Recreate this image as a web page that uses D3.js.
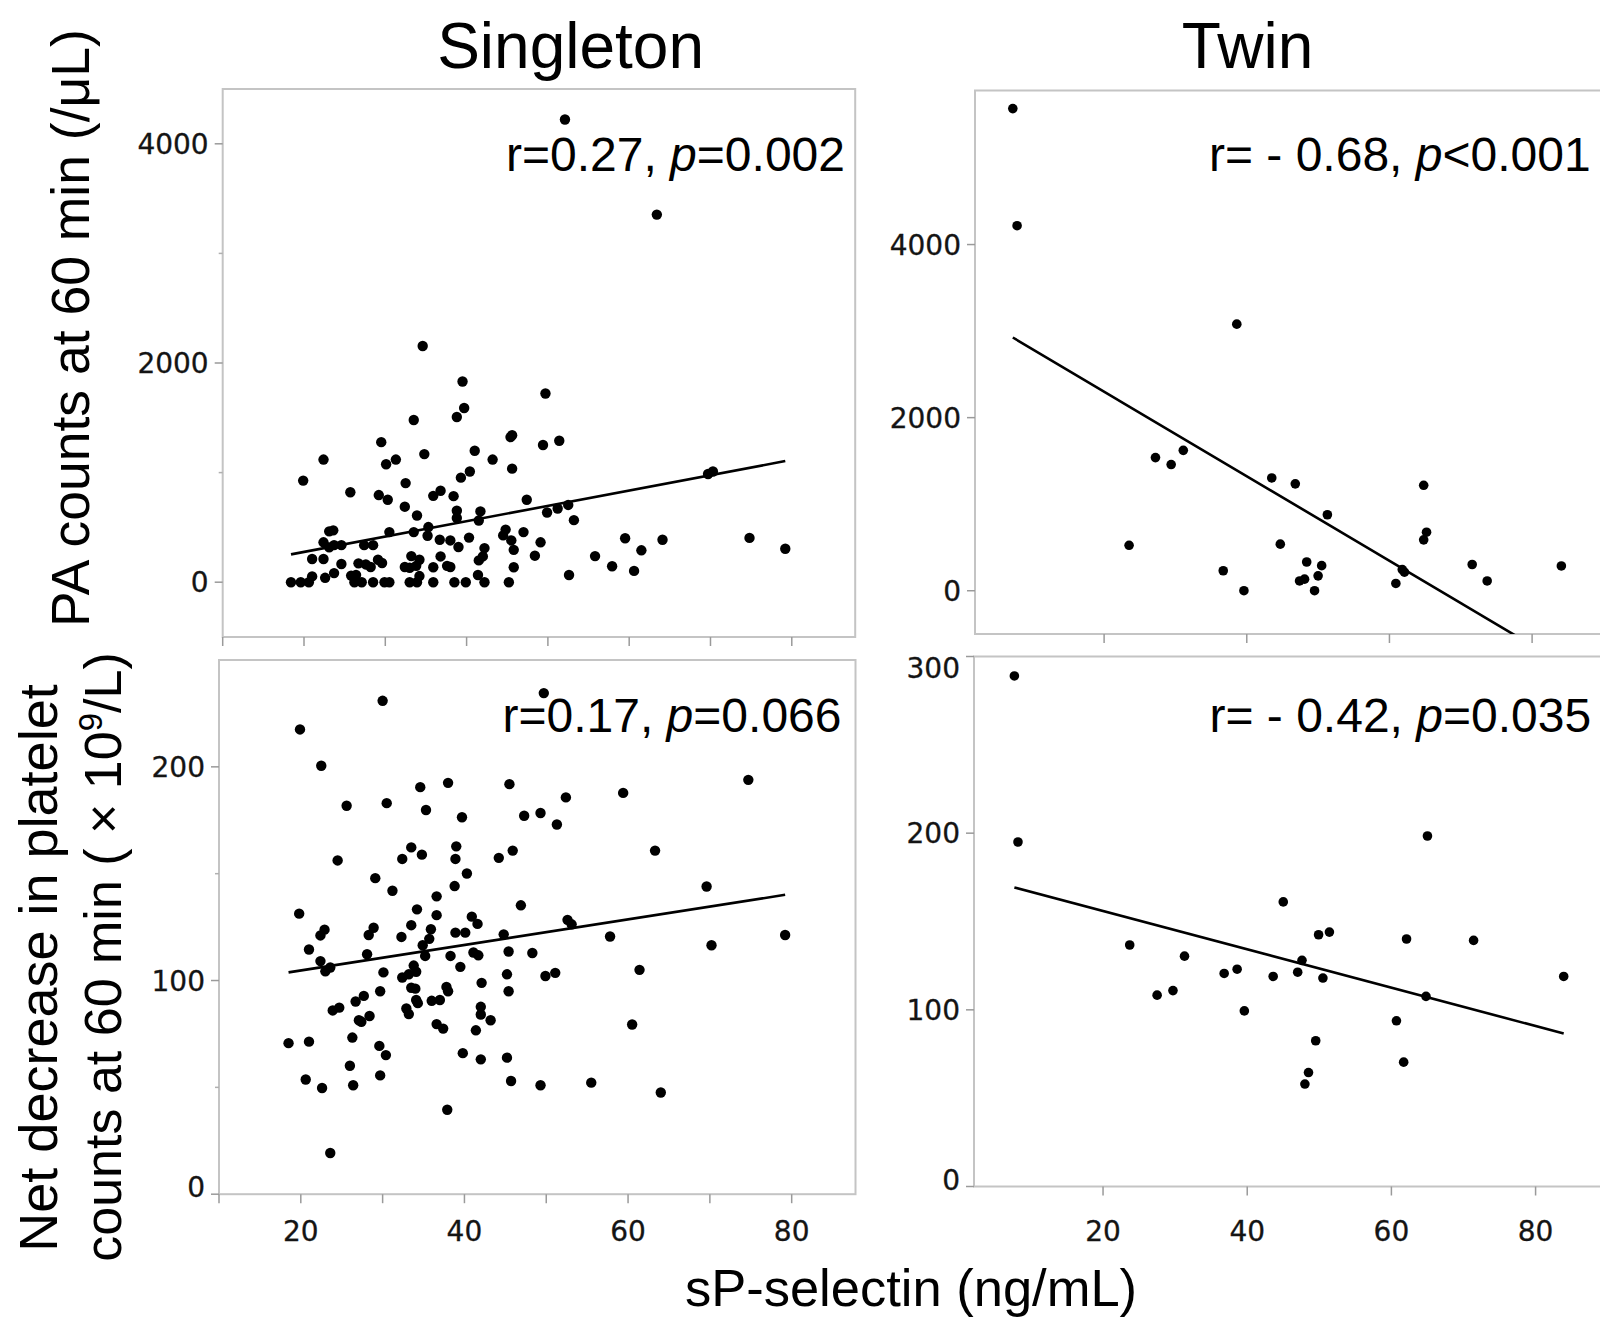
<!DOCTYPE html>
<html><head><meta charset="utf-8">
<script src="https://cdn.jsdelivr.net/npm/d3@7"></script>
<style>body{margin:0;background:#fff} svg{display:block}</style>
</head><body>
<svg id="c" width="1600" height="1321"></svg>
<script>
// ---------- data ----------
const panelTitles = ["Singleton", "Twin"];
const xAxisTitle = "sP-selectin (ng/mL)";

// Singleton: PA counts at 60 min vs sP-selectin
const singletonPA = [
 [18.4,0],[19.6,0],[20.6,0],[21.0,53],[21.0,212],[22.4,212],[22.6,40],[23.7,83],[24.6,166],[22.4,364],[23.1,318],[23.7,338],[24.6,338],[23.1,464],[23.6,473],[25.8,60],[26.4,66],[26.2,0],[27.1,0],[26.7,172],[27.6,162],[28.2,139],[27.4,338],[28.5,338],[29.1,205],[29.6,175],[28.5,0],[29.9,0],[30.5,0],[33.0,0],[33.9,0],[35.9,0],[38.5,0],[39.9,0],[41.4,66],[42.2,0],[45.2,0],
 [19.9,927],[22.4,1119],[25.7,821],[29.2,795],[29.5,1278],[30.1,1076],[30.3,752],[30.5,457],[31.3,1119],[32.4,689],[32.5,904],[33.5,1480],[33.5,457],[33.9,609],[34.6,2155],[34.8,1169],[35.2,424],[35.3,503],[35.9,788],[36.7,387],[36.8,834],[38.0,381],[38.4,785],[38.8,1507],[38.8,652],[38.8,586],[39.0,321],[39.3,954],[39.5,1831],[39.7,1589],[40.3,407],[40.4,1010],[41.0,1199],[41.5,563],[41.7,646],[42.2,311],[42.0,235],[41.5,199],[36.8,235],[37.6,149],[38.0,139],[35.9,136],[33.2,238],[34.2,205],[33.8,149],[32.4,139],[33.0,132],[34.2,56],[43.2,1119],[44.5,427],[44.8,480],[45.4,1324],[45.6,1341],[45.6,1036],[45.5,381],[45.8,295],[45.8,136],[47.0,457],[47.4,752],[48.4,242],[49.1,364],[49.4,1252],[49.7,1722],[49.9,636],[51.2,672],[51.4,1291],[52.1,4222],[52.5,705],[52.6,66],[53.2,566],[55.8,238],[57.9,146],[59.5,401],[60.6,103],[61.5,291],[63.4,3354],[64.1,387],[69.7,987],[70.3,1010],[74.8,404],[79.2,305]
];
const singletonPALine = [[18.4,254],[79.2,1105]];

// Singleton: net decrease in platelet counts vs sP-selectin
const singletonNet = [
 [30.0,230.9],[49.7,234.5],[19.9,217.5],[22.5,200.5],[74.7,193.9],[38.0,192.5],[45.5,191.9],[34.6,190.5],[59.4,187.8],[52.4,185.7],[30.5,183.0],[25.6,181.8],[35.3,179.8],[49.3,178.4],[47.3,177.1],[39.7,176.4],[51.3,173.0],[33.5,162.3],[39.0,162.8],[45.9,160.8],[63.3,160.8],[34.8,158.9],[32.4,156.9],[38.9,156.9],[44.2,157.4],[24.5,156.2],[40.3,150.1],[29.1,147.9],[38.8,144.2],[69.6,144.0],[31.2,142.0],[36.6,139.4],[46.9,135.2],[19.8,131.3],[34.2,133.3],[36.6,130.6],[40.9,129.9],[41.6,126.5],[52.6,128.4],[53.1,126.3],[22.9,123.8],[22.4,121.1],[28.9,124.7],[28.3,121.3],[33.5,125.9],[35.9,124.0],[35.7,119.5],[32.3,120.4],[38.9,122.4],[40.1,122.4],[44.8,121.6],[57.8,120.6],[79.2,121.3],[70.2,116.5],[21.0,114.5],[28.1,112.3],[34.9,116.5],[35.2,111.5],[38.3,111.5],[41.1,113.1],[41.7,111.8],[45.4,113.6],[48.3,112.9],[22.4,109.1],[23.0,104.3],[23.6,106.1],[30.1,103.8],[33.8,107.0],[34.1,104.1],[33.2,102.9],[32.4,101.4],[39.5,106.4],[45.2,102.9],[49.9,102.1],[51.1,103.6],[61.4,105.0],[42.1,98.9],[33.5,96.6],[34.0,96.2],[37.8,97.0],[38.0,95.0],[29.7,95.0],[45.4,95.0],[34.1,90.9],[34.3,89.4],[36.0,90.5],[37.0,90.9],[26.7,90.2],[27.7,92.8],[23.9,86.0],[24.7,87.3],[32.9,86.9],[33.2,84.3],[42.0,87.7],[42.0,84.1],[27.1,81.4],[27.4,80.7],[28.4,83.4],[43.2,81.4],[36.6,79.6],[37.4,77.5],[41.4,76.7],[60.5,79.4],[18.5,70.7],[21.0,71.4],[26.3,73.3],[29.6,69.4],[30.4,65.1],[39.8,66.0],[42.0,63.1],[45.2,63.9],[26.0,60.1],[29.7,55.6],[20.6,53.7],[22.6,49.7],[26.4,51.0],[45.7,53.0],[49.3,51.0],[55.5,52.2],[64.0,47.6],[37.9,39.5],[23.6,19.3]
];
const singletonNetLine = [[18.5,103.8],[79.2,140.1]];

// Twin: PA counts at 60 min vs sP-selectin
const twinPA = [
 [7.2,5571],[7.8,4218],[38.6,3080],[27.2,1538],[29.4,1458],[31.1,1622],[23.5,525],[36.7,231],[39.6,0],[43.5,1303],[46.8,1235],[44.7,538],[48.4,332],[50.5,290],[47.4,113],[48.1,134],[50.0,172],[49.5,0],[51.3,878],[60.9,84],[61.8,244],[62.1,214],[64.8,1218],[65.2,676],[64.8,588],[71.6,303],[73.7,113],[84.1,286]
];
const twinPALine = [[7.2,2926],[84.1,-832]];

// Twin: net decrease in platelet counts vs sP-selectin
const twinNet = [
 [7.7,289],[8.2,195],[23.7,136.7],[31.3,130.4],[27.5,108.3],[29.7,110.9],[36.8,120.6],[38.6,123.0],[39.6,99.4],[43.6,118.9],[45.0,161.1],[47.0,121.3],[47.6,128.0],[49.9,142.5],[51.4,144.0],[50.5,118.0],[49.5,82.5],[48.5,64.5],[48.0,58.0],[60.7,93.8],[61.7,70.4],[62.1,140.1],[65.0,198.4],[64.8,107.6],[71.4,139.3],[83.9,118.9]
];
const twinNetLine = [[7.7,169.3],[83.9,86.6]];

// axes
const singletonXDomain = [10, 87.8];
const twinXDomain = [1.9, 91.2];
const twinNetXDomain = [2.1, 90.6];
const singletonPAYDomain = [-500, 4500];
const singletonNetYDomain = [0, 250];
const twinPAYDomain = [-500, 5780];
const twinNetYDomain = [0, 300];
const singletonXTicks = [10, 20, 30, 40, 50, 60, 70, 80];
const twinXTicks = [20, 40, 60, 80];
const xTickLabels = [20, 40, 60, 80];
const paYTicks = [0, 2000, 4000];
const paYMinor = [1000, 3000];
const singletonNetYTicks = [0, 100, 200];
const singletonNetYMinor = [50, 150];
const twinNetYTicks = [0, 100, 200, 300];

const stats = [
  ["r=0.27, ", "p", "=0.002"],
  ["r= - 0.68, ", "p", "<0.001"],
  ["r=0.17, ", "p", "=0.066"],
  ["r= - 0.42, ", "p", "=0.035"]
];

// ---------- layout ----------
const panels = [
  {pts: singletonPA, line: singletonPALine, xd: singletonXDomain, yd: singletonPAYDomain,
   box: {l:222.7, r:855.2, t:89, b:637}, yTicks: paYTicks, yMinor: paYMinor, xTicks: singletonXTicks,
   xLabels: false, stat: stats[0], sx: 506, sy: 171, rad: 5.2},
  {pts: twinPA, line: twinPALine, xd: twinXDomain, yd: twinPAYDomain,
   box: {l:975, r:1612, t:90.5, b:634}, yTicks: paYTicks, yMinor: [], xTicks: twinXTicks,
   xLabels: false, stat: stats[1], sx: 1209, sy: 171, rad: 4.8},
  {pts: singletonNet, line: singletonNetLine, xd: singletonXDomain, yd: singletonNetYDomain,
   box: {l:219, r:855.5, t:660, b:1194.2}, yTicks: singletonNetYTicks, yMinor: singletonNetYMinor, xTicks: singletonXTicks,
   xLabels: true, stat: stats[2], sx: 502.5, sy: 732, rad: 5.2},
  {pts: twinNet, line: twinNetLine, xd: twinNetXDomain, yd: twinNetYDomain,
   box: {l:974, r:1612, t:656.5, b:1186.5}, yTicks: twinNetYTicks, yMinor: [], xTicks: twinXTicks,
   xLabels: true, stat: stats[3], sx: 1209.5, sy: 732, rad: 4.8}
];

const svg = d3.select("#c");
const SANS = "'Liberation Sans', Arial, sans-serif";
const TICKF = "'DejaVu Sans', Verdana, sans-serif";

panels.forEach((p, i) => {
  const b = p.box;
  const x = d3.scaleLinear().domain(p.xd).range([b.l, b.r]);
  const y = d3.scaleLinear().domain(p.yd).range([b.b, b.t]);
  const g = svg.append("g");
  const cid = "clip" + i;
  svg.append("clipPath").attr("id", cid).append("rect")
    .attr("x", b.l).attr("y", b.t).attr("width", b.r - b.l).attr("height", b.b - b.t);

  // frame
  g.append("rect").attr("x", b.l).attr("y", b.t).attr("width", b.r - b.l).attr("height", b.b - b.t)
    .attr("fill", "none").attr("stroke", "#c4c4c4").attr("stroke-width", 2);

  // y ticks
  g.selectAll(".yt").data(p.yTicks).enter().append("line")
    .attr("x1", b.l - 8).attr("x2", b.l).attr("y1", d => y(d)).attr("y2", d => y(d))
    .attr("stroke", "#9a9a9a").attr("stroke-width", 1.5);
  g.selectAll(".ym").data(p.yMinor).enter().append("line")
    .attr("x1", b.l - 4).attr("x2", b.l).attr("y1", d => y(d)).attr("y2", d => y(d))
    .attr("stroke", "#b0b0b0").attr("stroke-width", 1.5);
  g.selectAll(".yl").data(p.yTicks).enter().append("text")
    .attr("x", b.l - 14)
    .attr("y", d => Math.max(b.t + 11, Math.min(b.b - 7, y(d))))
    .attr("dy", "0.36em").attr("text-anchor", "end")
    .attr("font-family", TICKF).attr("font-size", 28).attr("fill", "#141414")
    .attr("stroke", "#141414").attr("stroke-width", 0.3)
    .text(d => d);

  // x ticks
  g.selectAll(".xt").data(p.xTicks).enter().append("line")
    .attr("x1", d => x(d)).attr("x2", d => x(d)).attr("y1", b.b).attr("y2", b.b + 9)
    .attr("stroke", "#9a9a9a").attr("stroke-width", 1.5);
  if (p.xLabels) {
    g.selectAll(".xl").data(xTickLabels).enter().append("text")
      .attr("x", d => x(d)).attr("y", 1241).attr("text-anchor", "middle")
      .attr("font-family", TICKF).attr("font-size", 28).attr("fill", "#141414")
      .attr("stroke", "#141414").attr("stroke-width", 0.3)
      .text(d => d);
  }

  // regression line
  g.append("line").attr("clip-path", `url(#${cid})`)
    .attr("x1", x(p.line[0][0])).attr("y1", y(p.line[0][1]))
    .attr("x2", x(p.line[1][0])).attr("y2", y(p.line[1][1]))
    .attr("stroke", "#000").attr("stroke-width", 2.6);

  // points
  g.append("g").attr("clip-path", `url(#${cid})`)
    .selectAll("circle").data(p.pts).enter().append("circle")
    .attr("cx", d => x(d[0])).attr("cy", d => y(d[1])).attr("r", p.rad).attr("fill", "#000");

  // stat annotation
  const t = g.append("text").attr("x", p.sx).attr("y", p.sy)
    .attr("font-family", SANS).attr("font-size", 48).attr("fill", "#000");
  t.append("tspan").text(p.stat[0]);
  t.append("tspan").attr("font-style", "italic").text(p.stat[1]);
  t.append("tspan").text(p.stat[2]);
});

// titles
const titleX = [570.6, 1247.5];
svg.selectAll(".title").data(panelTitles).enter().append("text")
  .attr("x", (d, i) => titleX[i]).attr("y", 68).attr("text-anchor", "middle")
  .attr("font-family", SANS).attr("font-size", 64).attr("fill", "#000").text(d => d);

// x axis title
svg.append("text").attr("x", 911).attr("y", 1306).attr("text-anchor", "middle")
  .attr("font-family", SANS).attr("font-size", 52.5).attr("fill", "#000").text(xAxisTitle);

// y axis titles
svg.append("text").attr("transform", "translate(89,328) rotate(-90)").attr("text-anchor", "middle")
  .attr("font-family", SANS).attr("font-size", 53.5).attr("fill", "#000").text("PA counts at 60 min (/μL)");
svg.append("text").attr("transform", "translate(57,968) rotate(-90)").attr("text-anchor", "middle")
  .attr("font-family", SANS).attr("font-size", 54).attr("fill", "#000").text("Net decrease in platelet");
const l2 = svg.append("text").attr("transform", "translate(121,957) rotate(-90)").attr("text-anchor", "middle")
  .attr("font-family", SANS).attr("font-size", 52).attr("fill", "#000");
l2.append("tspan").text("counts at 60 min ( × 10");
l2.append("tspan").attr("font-size", 33).attr("dy", -19).text("9");
l2.append("tspan").attr("dy", 19).text("/L)");
</script>
</body></html>
